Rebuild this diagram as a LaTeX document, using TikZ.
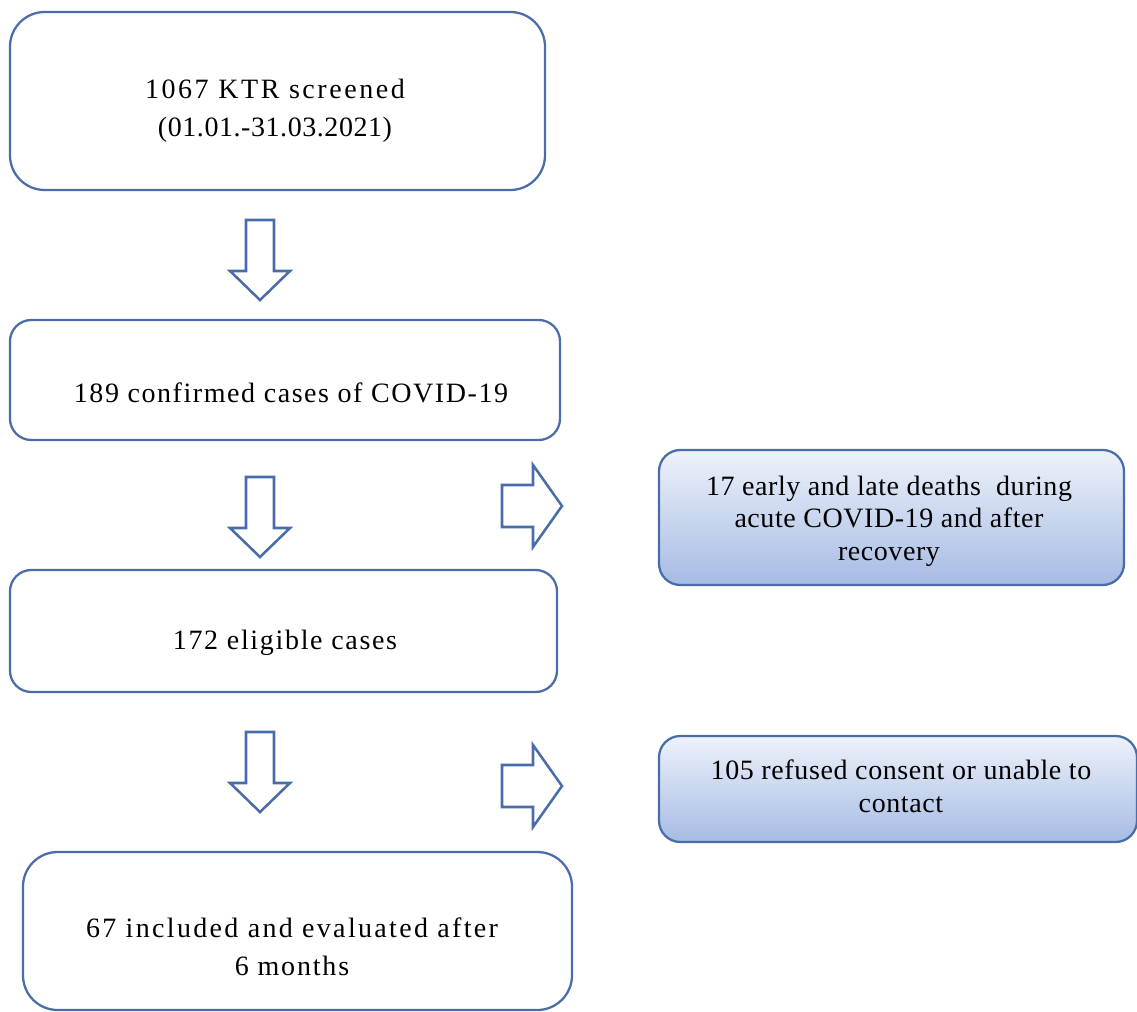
\documentclass[tikz,border=0pt]{standalone}
\usepackage{fontspec}
\setmainfont{Liberation Serif}
\usetikzlibrary{fit}
\definecolor{bord}{HTML}{4A6CA8}
\definecolor{gtop}{HTML}{EEF2FA}
\definecolor{gbot}{HTML}{A6BBE4}
\newcommand\ls[2]{{\addfontfeature{LetterSpace=#1}#2}}
\newcommand\mydownarrow[2]{%
  \draw[blockarrow] ({#1-14},{#2}) -- ({#1+14},{#2}) -- ({#1+14},{#2+51}) -- ({#1+30},{#2+51})
    -- ({#1},{#2+80}) -- ({#1-30},{#2+51}) -- ({#1-14},{#2+51}) -- cycle;}
\newcommand\myrightarrow[2]{%
  \draw[blockarrow] ({#1},{#2-21}) -- ({#1+31},{#2-21}) -- ({#1+31},{#2-41}) -- ({#1+60},{#2})
    -- ({#1+31},{#2+41}) -- ({#1+31},{#2+21}) -- ({#1},{#2+21}) -- cycle;}
\begin{document}
\begin{tikzpicture}[x=0.75pt,y=-0.75pt,
  box/.style={draw=bord, line width=1.7pt, fill=white, inner sep=0pt},
  sidebox/.style={draw=bord, line width=1.7pt, top color=gtop, bottom color=gbot, inner sep=0pt, rounded corners=16pt},
  txt/.style={align=center, font=\rmfamily\fontsize{21}{28.5}\selectfont, inner sep=0pt},
  sidetxt/.style={align=center, font=\rmfamily\fontsize{21}{24.5}\selectfont, inner sep=0pt},
  blockarrow/.style={draw=bord, line width=1.9pt, fill=white, line join=miter}]
\useasboundingbox (0,0) rectangle (1137,1012);

\node[box, rounded corners=26pt, fit={(10,12) (545,190)}] (b1) {};
\node[txt] (t1) at (275,111) {\ls{9.2}{1067 KTR screened}\\\ls{2}{(01.01.-31.03.2021)}};

\node[box, rounded corners=16pt, fit={(10,320) (560,440)}] (b2) {};
\node[txt] (t2) at (291,393) {\ls{5.6}{189 confirmed cases of COVID-19}};

\node[box, rounded corners=16pt, fit={(10,570) (557,692)}] (b3) {};
\node[txt] (t3) at (285,643) {\ls{6}{172 eligible cases}};

\node[box, rounded corners=26pt, fit={(23,852) (572,1010)}] (b4) {};
\node[txt] (t4) at (292,947) {\ls{8.3}{67 included and evaluated after}\\\ls{6.5}{6 months}};

\node[sidebox, fit={(659,450) (1124,585)}] (s1) {};
\node[sidetxt] (st1) at (889,521) {\ls{2}{17 early and late deaths\ \ during}\\\ls{2}{acute COVID-19 and after}\\\ls{2}{recovery}};

\node[sidebox, fit={(659,736) (1137,842)}] (s2) {};
\node[sidetxt] (st2) at (901,786) {\ls{2.2}{105 refused consent or unable to}\\\ls{2.2}{contact}};

\mydownarrow{260}{220}
\mydownarrow{260}{477}
\mydownarrow{260}{732}
\myrightarrow{502}{506}
\myrightarrow{502}{786}
\end{tikzpicture}
\end{document}
